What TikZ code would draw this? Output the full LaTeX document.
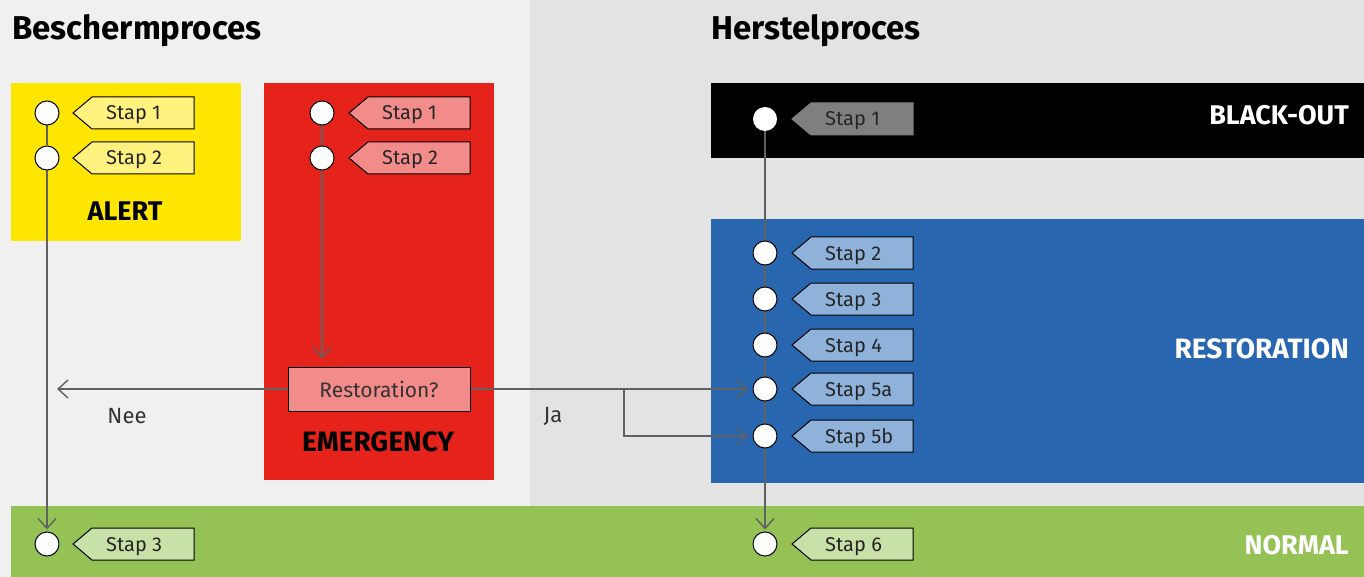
\documentclass[tikz,border=0pt]{standalone}
\usepackage{fontspec}
\setmainfont{Fira Sans}
\usetikzlibrary{arrows.meta,calc}
\definecolor{bgleft}{HTML}{F0F0F0}
\definecolor{bgright}{HTML}{E3E3E3}
\definecolor{alertY}{HTML}{FFE600}
\definecolor{alertL}{HTML}{FFF27F}
\definecolor{emerR}{HTML}{E5231B}
\definecolor{emerL}{HTML}{F28C8A}
\definecolor{restB}{HTML}{2867AF}
\definecolor{restL}{HTML}{8FB2DA}
\definecolor{normG}{HTML}{94C255}
\definecolor{normL}{HTML}{C9E1A8}
\definecolor{blackL}{HTML}{7F7F7F}
\definecolor{linec}{HTML}{616161}
\pgfdeclarelayer{back}
\pgfdeclarelayer{lines}
\pgfsetlayers{back,lines,main}
\newcommand\steptag[6]{% name, tipx, y, text, fill, border
  \path[draw=#6, line width=1pt, fill=#5] (#2,#3) -- ++(19,-16) -- ++(102,0) -- ++(0,32) -- ++(-102,0) -- cycle;
  \node[tagtext, anchor=base west] (#1) at ($(#2,#3)+(33,7)$) {#4};}
\tikzset{
  dot/.style={circle, draw=black, fill=white, line width=1pt, minimum size=24pt, inner sep=0pt},
  tagtext/.style={font=\fontsize{20}{22}\selectfont, text=black!85, inner sep=0pt},
  conn/.style={draw=linec, line width=1.4pt},
  arr/.style={-{Straight Barb[length=10pt,width=18pt,line width=1.4pt]}},
  title/.style={font=\fontsize{33}{36}\selectfont\bfseries, anchor=base west, inner sep=0pt},
  phase/.style={font=\fontsize{27}{30}\selectfont\bfseries, inner sep=0pt},
  lbl/.style={font=\fontsize{22}{26}\selectfont, text=black!80, inner sep=0pt}
}
\begin{document}
\begin{tikzpicture}[x=1pt,y=-1pt]
\useasboundingbox (0,0) rectangle (1364,577);
\begin{pgfonlayer}{back}
  \fill[bgleft] (0,0) rectangle (530,577);
  \fill[bgright] (530,0) rectangle (1364,577);
  \fill[alertY] (11,83) rectangle (241,241);
  \fill[emerR] (264,83) rectangle (494,480);
  \fill[black] (711,83) rectangle (1364,158);
  \fill[restB] (711,219) rectangle (1364,483);
  \fill[normG] (11,506) rectangle (1364,577);
\end{pgfonlayer}
% titles
\node[title] (t1) at (12,40) {Beschermproces};
\node[title] (t2) at (711,40) {Herstelproces};
% phase labels
\node[phase] (alert) at (125,211) {ALERT};
\node[phase, font=\fontsize{28}{30}\selectfont\bfseries] (emer) at (378,442) {EMERGENCY};
\node[phase, text=white, anchor=east] (bo) at (1349,115) {BLACK-OUT};
\node[phase, text=white, anchor=east, font=\fontsize{28}{30}\selectfont\bfseries] (rs) at (1349,349) {RESTORATION};
\node[phase, text=white, anchor=east] (nm) at (1349,545) {NORMAL};
% circles
\node[dot] (a1) at (47,113) {};
\node[dot] (a2) at (47,158) {};
\node[dot] (e1) at (322,113) {};
\node[dot] (e2) at (322,158) {};
\node[dot] (n3) at (47,544) {};
\node[dot, draw=none] (b1) at (765,119) {};
\node[dot] (r2) at (765,253) {};
\node[dot] (r3) at (765,299) {};
\node[dot] (r4) at (765,345) {};
\node[dot] (r5a) at (765,389) {};
\node[dot] (r5b) at (765,436) {};
\node[dot] (n6) at (765,544) {};
% tags
\steptag{ta1}{73}{113}{Stap 1}{alertL}{black}
\steptag{ta2}{73}{158}{Stap 2}{alertL}{black}
\steptag{te1}{349}{113}{Stap 1}{emerL}{black}
\steptag{te2}{349}{158}{Stap 2}{emerL}{black}
\steptag{tb1}{792}{119}{Stap 1}{blackL}{blackL}
\steptag{tr2}{792}{253}{Stap 2}{restL}{black}
\steptag{tr3}{792}{299}{Stap 3}{restL}{black}
\steptag{tr4}{792}{345}{Stap 4}{restL}{black}
\steptag{tr5a}{792}{389}{Stap 5a}{restL}{black}
\steptag{tr5b}{792}{436}{Stap 5b}{restL}{black}
\steptag{tn3}{73}{544}{Stap 3}{normL}{black}
\steptag{tn6}{792}{544}{Stap 6}{normL}{black}
% decision
\node[draw=black, line width=1pt, fill=emerL, minimum width=182pt, minimum height=44pt, inner sep=0pt, font=\fontsize{21}{24}\selectfont, text=black!80] (q) at (379,389) {Restoration?};
\coordinate (nee) at (57,389);
\coordinate (split) at (624,389);
\node[lbl] (lnee) at (127,416) {Nee};
\node[lbl] (lja) at (553,416) {Ja};
% connectors
\begin{pgfonlayer}{lines}
  \draw[conn] (a1) -- (a2);
  \draw[conn, arr, shorten >=2pt] (a2) -- (n3);
  \draw[conn] (e1) -- (e2);
  \draw[conn, arr, shorten >=8pt] (e2) -- (e2 |- q.north);
  \draw[conn, arr] (q) -- (nee);
  \draw[conn, arr, shorten >=5pt] (q) -- (r5a);
  \draw[conn, arr, shorten >=5pt] (split) |- (r5b);
  \draw[conn, arr, shorten >=2pt] (b1) -- (n6);
\end{pgfonlayer}
\end{tikzpicture}
\end{document}
